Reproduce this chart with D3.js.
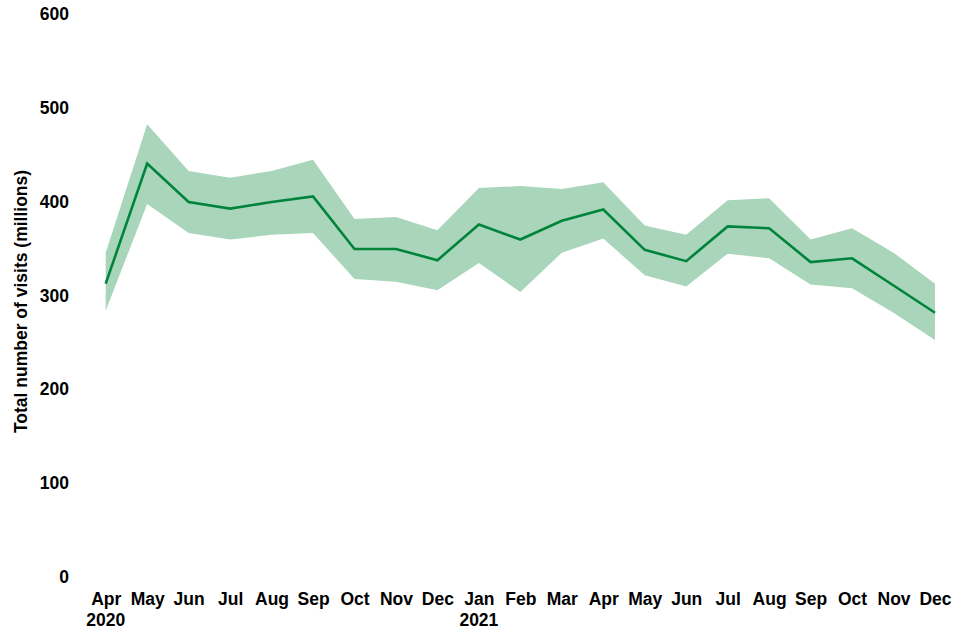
<!DOCTYPE html>
<html>
<head>
<meta charset="utf-8">
<script src="https://cdn.jsdelivr.net/npm/d3@7"></script>
<style>
  html, body { margin: 0; padding: 0; background: #fff; }
  svg text { font-family: "Liberation Sans", Arial, sans-serif; font-weight: bold; fill: #000; }
</style>
</head>
<body>
<svg id="chart" width="960" height="640"></svg>
<script>
const months = ["Apr","May","Jun","Jul","Aug","Sep","Oct","Nov","Dec","Jan","Feb","Mar","Apr","May","Jun","Jul","Aug","Sep","Oct","Nov","Dec"];
const years = ["2020","","","","","","","","","2021","","","","","","","","","","",""];
const visits = [312, 440, 399, 392, 399, 405, 349, 349, 337, 375, 359, 379, 391, 348, 336, 373, 371, 335, 339, 310, 281];
const upper  = [345, 482, 432, 425, 432, 444, 381, 383, 369, 414, 416, 413, 420, 374, 364, 401, 403, 359, 371, 345, 312];
const lower  = [283, 397, 366, 359, 364, 366, 317, 314, 305, 334, 303, 345, 360, 321, 309, 344, 339, 311, 307, 281, 252];
const yTicks = [0, 100, 200, 300, 400, 500, 600];
const yTitle = "Total number of visits (millions)";

const FS = "17.5px";
const svg = d3.select("#chart");
const idx = d3.range(months.length);

const x = d3.scaleLinear().domain([0, months.length - 1]).range([105.7, 935]);
const y = d3.scaleLinear().domain([0, 600]).range([576.3, 13.5]);

// band
const area = d3.area()
  .x(i => x(i))
  .y0(i => y(lower[i]))
  .y1(i => y(upper[i]));
svg.append("path")
  .datum(idx)
  .attr("d", area)
  .attr("fill", "#a9d6ba");

// line
const line = d3.line()
  .x(i => x(i))
  .y(i => y(visits[i]));
svg.append("path")
  .datum(idx)
  .attr("d", line)
  .attr("fill", "none")
  .attr("stroke", "#00843c")
  .attr("stroke-width", 2.6)
  .attr("stroke-linejoin", "miter");

// y axis
const yAxis = d3.axisLeft(y).tickValues(yTicks).tickSize(0).tickPadding(0);
const gy = svg.append("g").attr("transform", "translate(69,0)").call(yAxis);
gy.select(".domain").remove();
gy.selectAll("text")
  .style("font-family", "'Liberation Sans', Arial, sans-serif")
  .style("font-weight", "bold")
  .style("font-size", FS)
  .attr("fill", "#000")
  .attr("dy", "0.35em");

// x axis
const xAxis = d3.axisBottom(x).tickValues(idx).tickFormat(i => months[i]).tickSize(0).tickPadding(0);
const gx = svg.append("g").attr("transform", "translate(0,604.5)").call(xAxis);
gx.select(".domain").remove();
gx.selectAll("text")
  .style("font-family", "'Liberation Sans', Arial, sans-serif")
  .style("font-weight", "bold")
  .style("font-size", FS)
  .attr("fill", "#000")
  .attr("y", 0)
  .attr("dy", "0");

// year labels
svg.append("g").selectAll("text")
  .data(idx.filter(i => years[i] !== ""))
  .join("text")
  .attr("x", i => x(i))
  .attr("y", 625.5)
  .attr("text-anchor", "middle")
  .style("font-size", FS)
  .text(i => years[i]);

// y title
svg.append("text")
  .attr("transform", "translate(27,301.5) rotate(-90)")
  .attr("text-anchor", "middle")
  .style("font-size", FS)
  .text(yTitle);
</script>
</body>
</html>
